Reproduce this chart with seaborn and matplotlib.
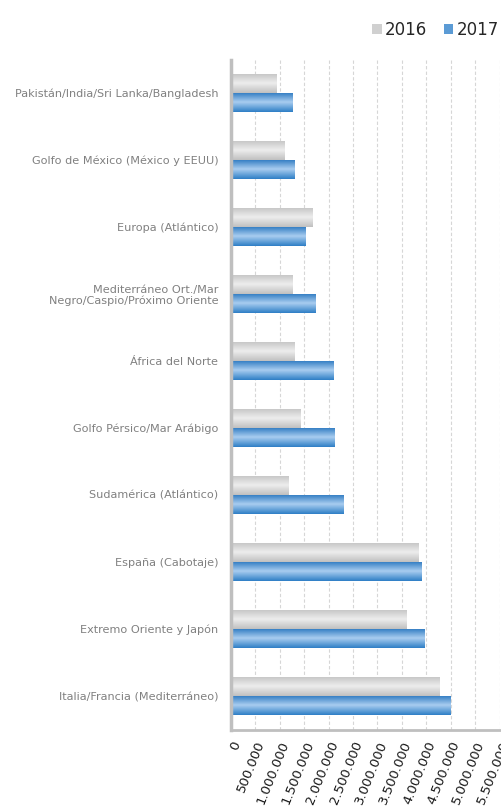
import numpy as np
import pandas as pd
import matplotlib
matplotlib.use('Agg')
import matplotlib.pyplot as plt
import seaborn as sns
from matplotlib.colors import LinearSegmentedColormap
from matplotlib.patches import Patch

# ---------------------------------------------------------
# Data
# ---------------------------------------------------------
categories = [
    'Pakistán/India/Sri Lanka/Bangladesh',
    'Golfo de México (México y EEUU)',
    'Europa (Atlántico)',
    'Mediterráneo Ort./Mar\nNegro/Caspio/Próximo Oriente',
    'África del Norte',
    'Golfo Pérsico/Mar Arábigo',
    'Sudamérica (Atlántico)',
    'España (Cabotaje)',
    'Extremo Oriente y Japón',
    'Italia/Francia (Mediterráneo)',
]
values_2016 = [935000, 1090000, 1660000, 1250000, 1300000, 1430000, 1170000, 3850000, 3600000, 4270000]
values_2017 = [1255000, 1310000, 1530000, 1730000, 2100000, 2130000, 2310000, 3900000, 3960000, 4500000]
years = ['2016', '2017']
x_ticks = [0, 500000, 1000000, 1500000, 2000000, 2500000, 3000000, 3500000, 4000000, 4500000, 5000000, 5500000]
x_tick_labels = ['0', '500.000', '1.000.000', '1.500.000', '2.000.000', '2.500.000', '3.000.000',
                 '3.500.000', '4.000.000', '4.500.000', '5.000.000', '5.500.000']

df = pd.DataFrame({
    'region': categories * 2,
    'value': values_2016 + values_2017,
    'year': [years[0]] * len(categories) + [years[1]] * len(categories),
})

# gradient colours: edge -> centre -> edge
gray_cmap = LinearSegmentedColormap.from_list('g', ['#c4c4c4', '#ededed', '#c0c0c0'])
blue_cmap = LinearSegmentedColormap.from_list('b', ['#2b78c0', '#a9cdf0', '#2f7fc6'])
base_colors = {'2016': '#d9d9d9', '2017': '#5b9bd5'}

sns.set_style('white')
plt.rcParams['font.family'] = ['DejaVu Sans']

fig = plt.figure(figsize=(5.01, 8.09), dpi=100)
ax = fig.add_axes([231 / 501, 1 - 729.5 / 809, (499.5 - 231) / 501, (729.5 - 59.5) / 809])

sns.barplot(data=df, x='value', y='region', hue='year', order=categories, hue_order=years,
            palette=base_colors, orient='h', width=0.58, ax=ax, legend=False, edgecolor='none')

# gradient fill for each bar, clipped to the bar
grad = np.linspace(0, 1, 64).reshape(-1, 1)
bars = [p for p in ax.patches if p.get_width() > 0]
n = len(categories)
for i, p in enumerate(bars):
    cmap = gray_cmap if i < n else blue_cmap
    x0, y0 = p.get_x(), p.get_y()
    w, h = p.get_width(), p.get_height()
    im = ax.imshow(grad, cmap=cmap, aspect='auto', extent=[x0, x0 + w, y0 + h, y0],
                   origin='upper', zorder=p.get_zorder() + 0.1)
    im.set_clip_path(p)
ax.set_xlim(x_ticks[0], x_ticks[-1])
ax.set_ylim(len(categories) - 0.5, -0.5)

# grid lines
for xv in x_ticks[1:]:
    ax.axvline(xv, color='#d6d6d6', lw=0.8, ls=(0, (3, 2)), zorder=0)

# axes styling
for side in ['top', 'right']:
    ax.spines[side].set_visible(False)
ax.spines['left'].set_color('#bfbfbf')
ax.spines['left'].set_linewidth(2.5)
ax.spines['bottom'].set_color('#bfbfbf')
ax.spines['bottom'].set_linewidth(2)

ax.set_xticks(x_ticks)
ax.set_xticklabels(x_tick_labels, rotation=68, ha='right', va='top', rotation_mode='anchor',
                   fontsize=9.5, color='#1a1a1a')
ax.tick_params(axis='x', direction='out', length=4, width=1.5, color='#bfbfbf', pad=3)

ax.set_yticks(range(n))
ax.set_yticklabels(categories, fontsize=8.1, color='#808080', linespacing=1.1)
ax.tick_params(axis='y', which='major', length=0, pad=9)
ax.set_yticks(np.arange(-0.5, n, 1.0), minor=True)
ax.tick_params(axis='y', which='minor', direction='inout', length=7, width=2, color='#c8c8c8')

ax.set_xlabel('')
ax.set_ylabel('')

handles = [Patch(facecolor='#d0d0d0', edgecolor='none', label='2016'),
           Patch(facecolor='#5b9bd5', edgecolor='none', label='2017')]
fig.legend(handles=handles, loc='upper right', bbox_to_anchor=(1.025, 0.993), ncol=2, frameon=False,
           fontsize=12, handlelength=0.55, handleheight=0.55, handletextpad=0.2, columnspacing=1.0)

fig.savefig('out.png', dpi=100)
